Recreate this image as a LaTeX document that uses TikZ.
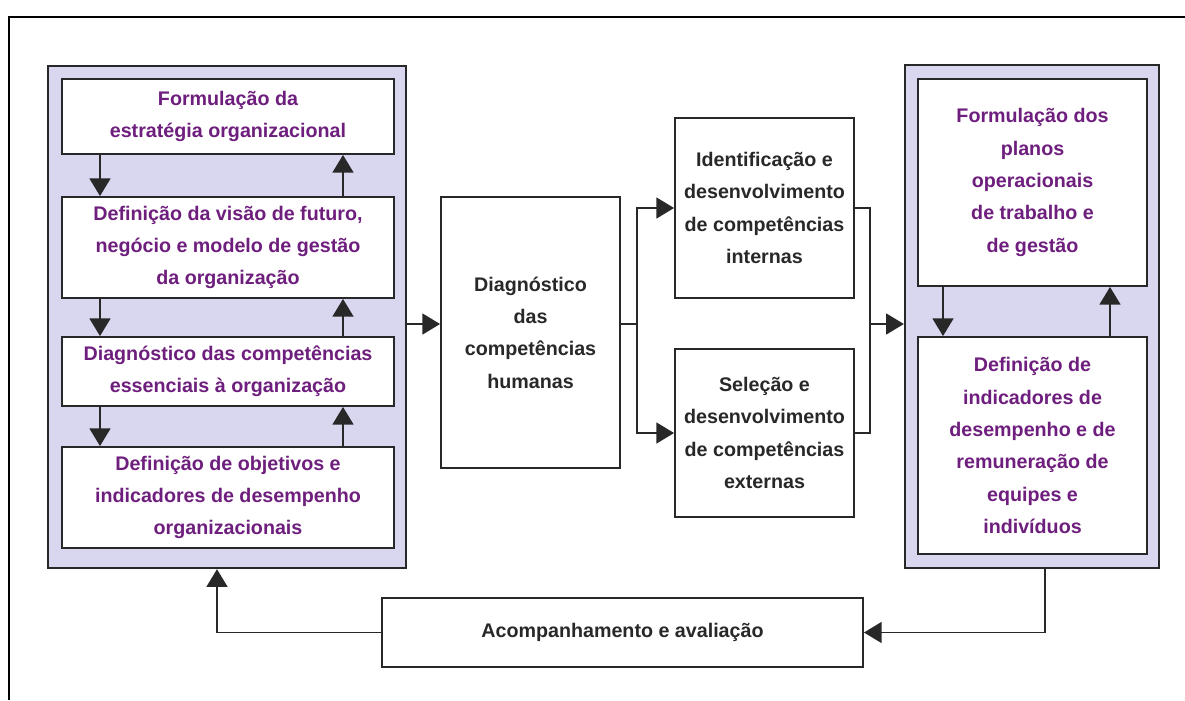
\documentclass[tikz,border=0pt]{standalone}
\usepackage{fontspec}
\setmainfont{Liberation Sans}
\usetikzlibrary{arrows.meta,calc}
\definecolor{panelfill}{RGB}{217,215,240}
\definecolor{textpurple}{RGB}{110,30,125}
\definecolor{linegray}{RGB}{40,40,40}

\begin{document}
\begin{tikzpicture}[x=0.025cm, y=-0.025cm,
  >={Triangle[length=0.44cm,width=0.52cm]},
  every node/.style={font=\fontsize{14}{23}\selectfont\bfseries, align=center, text=linegray},
  panel/.style={draw=linegray, line width=1.6pt, fill=panelfill},
  box/.style={draw=linegray, line width=1.3pt, fill=white, text=textpurple},
  plainbox/.style={draw=linegray, line width=1.3pt, fill=white},
  link/.style={draw=linegray, line width=1.3pt}]
  \useasboundingbox (0,0) rectangle (1185,700);
  % frame
  \draw[line width=1.1pt] (9,700) -- (9,17) -- (1185,17);

  % left panel
  \node[panel, minimum width=8.95cm, minimum height=12.55cm] (lp) at (227,317) {};
  \node[box, minimum width=8.3cm, minimum height=1.875cm] (est) at (228,116.5)
    {Formulação da\\estratégia organizacional};
  \node[box, minimum width=8.3cm, minimum height=2.525cm] (vis) at (228,247.5)
    {Definição da visão de futuro,\\negócio e modelo de gestão\\da organização};
  \node[box, minimum width=8.3cm, minimum height=1.725cm] (ess) at (228,371.5)
    {Diagnóstico das competências\\essenciais à organização};
  \node[box, minimum width=8.3cm, minimum height=2.525cm] (obj) at (228,497.5)
    {Definição de objetivos e\\indicadores de desempenho\\organizacionais};
  \coordinate (ldn) at (100,0);
  \coordinate (lup) at (343,0);
  \draw[link,->] (est.south -| ldn) -- (vis.north -| ldn);
  \draw[link,->] (vis.north -| lup) -- (est.south -| lup);
  \draw[link,->] (vis.south -| ldn) -- (ess.north -| ldn);
  \draw[link,->] (ess.north -| lup) -- (vis.south -| lup);
  \draw[link,->] (ess.south -| ldn) -- (obj.north -| ldn);
  \draw[link,->] (obj.north -| lup) -- (ess.south -| lup);

  % middle
  \node[plainbox, minimum width=4.475cm, minimum height=6.775cm] (hum) at (530.5,332.5)
    {Diagnóstico\\das\\competências\\humanas};
  \node[plainbox, minimum width=4.475cm, minimum height=4.5cm] (int) at (764.5,208)
    {Identificação e\\desenvolvimento\\de competências\\internas};
  \node[plainbox, minimum width=4.475cm, minimum height=4.2cm] (ext) at (764.5,433)
    {Seleção e\\desenvolvimento\\de competências\\externas};
  \coordinate (mid) at (0,324);
  \coordinate (split) at (637,324);
  \coordinate (join) at (870,324);
  \draw[link,->] (lp.east |- mid) -- (hum.west |- mid);
  \draw[link] (hum.east |- mid) -- (split);
  \draw[link,->] (split) |- (int.west);
  \draw[link,->] (split) |- (ext.west);
  \draw[link] (int.east) -| (join);
  \draw[link] (ext.east) -| (join);

  % right panel
  \node[panel, minimum width=6.35cm, minimum height=12.575cm] (rp) at (1032,316.5) {};
  \node[box, minimum width=5.725cm, minimum height=5.175cm] (pla) at (1032.5,182.5)
    {Formulação dos\\planos\\operacionais\\de trabalho e\\de gestão};
  \node[box, minimum width=5.725cm, minimum height=5.425cm] (ind) at (1032.5,445.5)
    {Definição de\\indicadores de\\desempenho e de\\remuneração de\\equipes e\\indivíduos};
  \coordinate (rdn) at (943,0);
  \coordinate (rup) at (1110,0);
  \draw[link,->] (pla.south -| rdn) -- (ind.north -| rdn);
  \draw[link,->] (ind.north -| rup) -- (pla.south -| rup);
  \draw[link,->] (join) -- (rp.west |- join);

  % feedback
  \node[plainbox, minimum width=12.025cm, minimum height=1.725cm] (aco) at (622.5,632.5)
    {Acompanhamento e avaliação};
  \coordinate (rout) at (1045,0);
  \coordinate (lin) at (217,0);
  \draw[link,->] (rp.south -| rout) |- (aco.east);
  \draw[link,->] (aco.west) -| (lp.south -| lin);
\end{tikzpicture}
\end{document}
